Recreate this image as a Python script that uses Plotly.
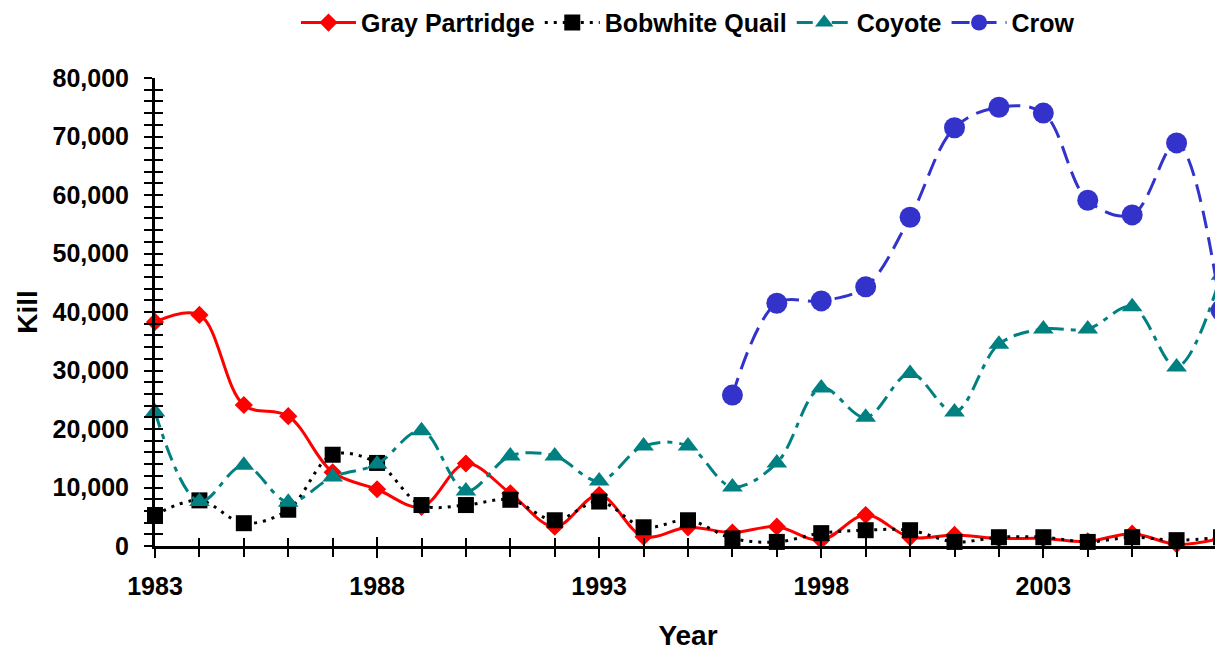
import plotly.graph_objects as go

years = list(range(1983, 2008))

gray_partridge = [38300, 39500, 24100, 22200, 12600, 9700, 6700, 14100, 9000, 3300,
                  8700, 1600, 3200, 2300, 3300, 1000, 5300, 1500, 1900, 1300,
                  1300, 800, 2100, 300, 1300]
bobwhite_quail = [5300, 7800, 3900, 6200, 15600, 14200, 7000, 7000, 7900, 4400,
                  7600, 3200, 4400, 1300, 700, 2200, 2700, 2700, 700, 1500,
                  1500, 700, 1500, 1000, 1500]
coyote = [22900, 7600, 13800, 7500, 11800, 14000, 19700, 9400, 15400, 15400,
          11100, 17100, 17100, 10100, 14200, 27000, 22000, 29500, 22900, 34500,
          37100, 37100, 40900, 30600, 46300]
crow = [None] * 13 + [25800, 41500, 41900, 44300, 56200, 71500, 75000, 74000,
                      59100, 56600, 68900, 40300]

series_names = ["Gray Partridge", "Bobwhite Quail", "Coyote", "Crow"]
y_ticks = list(range(0, 80001, 10000))
x_tick_years = [1983, 1988, 1993, 1998, 2003]

FONT = "Liberation Sans, Arial, sans-serif"

fig = go.Figure()
styles = [
    (gray_partridge, "#FF0000", "solid", 3, "diamond", 14),
    (bobwhite_quail, "#000000", "3px,6px", 3, "square", 16),
    (coyote, "#008080", "16px,7px,5px,7px", 3, "triangle-up", 18),
    (crow, "#3333CC", "18px,9px", 3, "circle", 21),
]
for name, (vals, col, dash, w, sym, sz) in zip(series_names, styles):
    fig.add_trace(go.Scatter(
        x=years, y=vals, name=name, mode="lines+markers",
        line=dict(color=col, width=w, dash=dash, shape="spline", smoothing=1.0),
        marker=dict(symbol=sym, size=sz, color=col, line=dict(width=0)),
        connectgaps=False, cliponaxis=False,
    ))

# invisible trace to host overlay axes (ticks on the inner side -> crossing ticks)
fig.add_trace(go.Scatter(x=[None], y=[None], xaxis="x2", yaxis="y2",
                         showlegend=False, hoverinfo="skip"))

fig.update_layout(
    width=1215, height=643,
    margin=dict(l=147, r=2, t=70, b=105, autoexpand=False),
    paper_bgcolor="white", plot_bgcolor="white",
    font=dict(family=FONT, color="#000000"),
    showlegend=True,
    legend=dict(orientation="h", x=0.5, xanchor="center", y=1.118, yref="paper",
                yanchor="middle", font=dict(family=FONT, size=25, weight="bold"),
                itemwidth=55, tracegroupgap=0, bgcolor="rgba(0,0,0,0)"),
    xaxis=dict(range=[1983, 2007], tickmode="array", tickvals=x_tick_years,
               ticktext=[str(v) for v in x_tick_years],
               ticks="outside", ticklen=9, tickwidth=2, tickcolor="black",
               minor=dict(dtick=1, tick0=1983, ticks="outside", ticklen=8,
                          tickwidth=2, tickcolor="black"),
               showline=True, linecolor="black", linewidth=3,
               showgrid=False, zeroline=False, automargin=False,
               tickfont=dict(family=FONT, size=25, weight="bold"),
               ticklabelstandoff=7,
               title=dict(text="Year", font=dict(family=FONT, size=28, weight="bold"),
                          standoff=30)),
    yaxis=dict(range=[0, 80000], tickmode="array", tickvals=y_ticks,
               ticktext=[f"{v:,}" for v in y_ticks],
               ticks="outside", ticklen=8, tickwidth=2, tickcolor="black",
               minor=dict(dtick=2000, tick0=0, ticks="outside", ticklen=8,
                          tickwidth=2, tickcolor="black"),
               showline=True, linecolor="black", linewidth=3,
               showgrid=False, zeroline=False, automargin=False,
               tickfont=dict(family=FONT, size=25, weight="bold"),
               ticklabelstandoff=10,
               title=dict(text="Kill", font=dict(family=FONT, size=28, weight="bold"),
                          standoff=7)),
    xaxis2=dict(range=[1983, 2007], overlaying="x", anchor="y2", side="bottom",
                tickmode="array", tickvals=x_tick_years, ticks="inside", ticklen=9,
                tickwidth=2, tickcolor="black", showticklabels=False,
                minor=dict(dtick=1, tick0=1983, ticks="inside", ticklen=8,
                           tickwidth=2, tickcolor="black"),
                showline=False, showgrid=False, zeroline=False, automargin=False),
    yaxis2=dict(range=[0, 80000], overlaying="y", anchor="x2", side="left",
                tickmode="array", tickvals=y_ticks, ticks="inside", ticklen=8,
                tickwidth=2, tickcolor="black", showticklabels=False,
                minor=dict(dtick=2000, tick0=0, ticks="inside", ticklen=8,
                           tickwidth=2, tickcolor="black"),
                showline=False, showgrid=False, zeroline=False, automargin=False),
)

fig.write_html("out.html")
